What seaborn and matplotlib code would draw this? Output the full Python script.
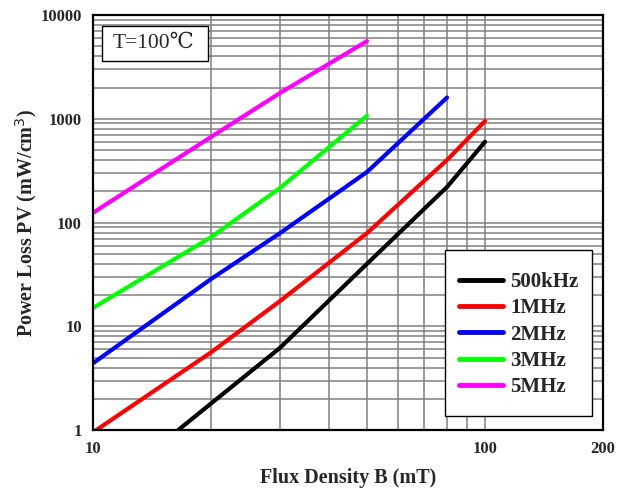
import pandas as pd
import matplotlib
matplotlib.use('Agg')
import matplotlib.pyplot as plt
import matplotlib.ticker as mticker
from matplotlib.patches import Rectangle
import seaborn as sns

# Curves (B in mT, PV in mW/cm^3)
b_500k = [16.5, 20, 30, 50, 80, 100]
pv_500k = [1.0, 1.8, 6.2, 40, 220, 600]
b_1m = [10, 20, 30, 50, 80, 100]
pv_1m = [0.95, 5.6, 17.5, 79, 400, 950]
b_2m = [10, 20, 30, 50, 80]
pv_2m = [4.4, 28.5, 79, 307, 1600]
b_3m = [10, 20, 30, 50]
pv_3m = [15, 72, 215, 1070]
b_5m = [10, 20, 30, 50]
pv_5m = [124, 667, 1770, 5600]

labels = ['500kHz', '1MHz', '2MHz', '3MHz', '5MHz']
colors = ['#000000', '#ff0000', '#0000ff', '#00ff00', '#ff00ff']

# Build long table for seaborn
rows = []
for lab, xs, ys in zip(labels, [b_500k, b_1m, b_2m, b_3m, b_5m],
                       [pv_500k, pv_1m, pv_2m, pv_3m, pv_5m]):
    for x, y in zip(xs, ys):
        rows.append({'B': x, 'PV': y, 'freq': lab})
df = pd.DataFrame(rows)

sns.set_style('white')
plt.rcParams['font.family'] = ['Liberation Serif', 'DejaVu Serif']

fig = plt.figure(figsize=(6.22, 4.9), dpi=100)
ax = fig.add_axes([0.1495, 0.1224, 0.82, 0.847])

sns.lineplot(data=df, x='B', y='PV', hue='freq', hue_order=labels,
             palette=colors, linewidth=3, sort=False, ax=ax, legend=True)

ax.set_xscale('log')
ax.set_yscale('log')
ax.set_xlim(10, 200)
ax.set_ylim(1, 10000)

# x ticks: 10, 100, 200 labelled, minor grid 20..90 only
ax.xaxis.set_major_locator(mticker.FixedLocator([10, 100, 200]))
ax.xaxis.set_major_formatter(mticker.FixedFormatter(['10', '100', '200']))
ax.xaxis.set_minor_locator(mticker.FixedLocator([20, 30, 40, 50, 60, 70, 80, 90]))
ax.xaxis.set_minor_formatter(mticker.NullFormatter())

ax.yaxis.set_major_locator(mticker.FixedLocator([1, 10, 100, 1000, 10000]))
ax.yaxis.set_major_formatter(mticker.FixedFormatter(['1', '10', '100', '1000', '10000']))
ax.yaxis.set_minor_locator(mticker.LogLocator(base=10, subs=range(2, 10)))
ax.yaxis.set_minor_formatter(mticker.NullFormatter())

ax.grid(True, which='both', color='#808080', linewidth=1.1)
ax.set_axisbelow(True)

ax.tick_params(axis='both', which='both', direction='in', length=0)
ax.tick_params(axis='y', which='major', pad=8)
ax.tick_params(axis='x', which='major', pad=8)
for lbl in ax.get_xticklabels() + ax.get_yticklabels():
    lbl.set_fontweight('bold')
    lbl.set_fontsize(12)

for sp in ax.spines.values():
    sp.set_color('black')
    sp.set_linewidth(1.6)

ax.set_xlabel('Flux Density B (mT)', fontsize=14.5, fontweight='bold', labelpad=8)
ax.set_ylabel('Power Loss PV (mW/cm$^{3}$)', fontsize=14.5, fontweight='bold', labelpad=1)

# temperature box
ax.add_patch(Rectangle((0.0176, 0.889), 0.208, 0.0845, transform=ax.transAxes,
                       facecolor='white', edgecolor='black', linewidth=1, zorder=4))
ax.text(0.1176, 0.931, 'T=100\u2103', transform=ax.transAxes, fontsize=15.5,
        va='center', ha='center', zorder=5)

# legend: frame drawn separately so its padding can match
ax.add_patch(Rectangle((0.690, 0.0337), 0.288, 0.400, transform=ax.transAxes,
                       facecolor='white', edgecolor='black', linewidth=1, zorder=4))
leg = ax.legend(loc='center left', bbox_to_anchor=(0.7176, 0.230), frameon=False,
                prop={'weight': 'bold', 'size': 15}, handlelength=2.1,
                borderpad=0, borderaxespad=0, labelspacing=0.3, handletextpad=0.35)
leg.set_zorder(5)
for h in leg.get_lines():
    h.set_linewidth(3.5)

fig.savefig('out.png', dpi=100)
